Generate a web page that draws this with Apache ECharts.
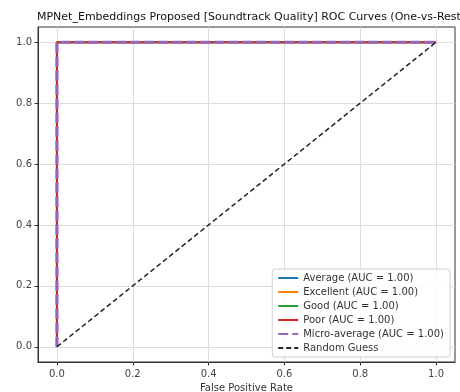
<!DOCTYPE html>
<html><head><meta charset="utf-8">
<script src="https://cdn.jsdelivr.net/npm/echarts@6/dist/echarts.min.js"></script>
<style>html,body{margin:0;padding:0;background:#fff}#c{width:460px;height:392px}</style>
</head><body><div id="c"></div>
<script>
const titleText = "MPNet_Embeddings Proposed [Soundtrack Quality] ROC Curves (One-vs-Rest)";
const xTicks = [0, 0.2, 0.4, 0.6, 0.8, 1.0];
const yTicks = [0, 0.2, 0.4, 0.6, 0.8, 1.0];
const seriesNames = ["Average (AUC = 1.00)", "Excellent (AUC = 1.00)", "Good (AUC = 1.00)", "Poor (AUC = 1.00)", "Micro-average (AUC = 1.00)", "Random Guess"];
const averageFpr = [0, 0, 1];
const averageTpr = [0, 1, 1];
const excellentFpr = [0, 0, 1];
const excellentTpr = [0, 1, 1];
const goodFpr = [0, 0, 1];
const goodTpr = [0, 1, 1];
const poorFpr = [0, 0, 1];
const poorTpr = [0, 1, 1];
const microFpr = [0, 0, 1];
const microTpr = [0, 1, 1];
const randomFpr = [0, 1];
const randomTpr = [0, 1];

const colors = ["#1f77b4", "#ff7f0e", "#2ca02c", "#d62728", "#9467bd", "#222222"];
const zip = (a, b) => a.map((v, i) => [v, b[i]]);
const curves = [
  zip(averageFpr, averageTpr), zip(excellentFpr, excellentTpr), zip(goodFpr, goodTpr),
  zip(poorFpr, poorTpr), zip(microFpr, microTpr), zip(randomFpr, randomTpr)
];
const styles = [
  {width: 2, type: 'solid'}, {width: 2, type: 'solid'}, {width: 2, type: 'solid'},
  {width: 2, type: 'solid'}, {width: 3.2, type: [10, 4]}, {width: 1.5, type: [5, 3]}
];
const font = "DejaVu Sans";
const chart = echarts.init(document.getElementById('c'), null, {renderer: 'canvas'});
chart.setOption({
  animation: false,
  backgroundColor: '#fff',
  textStyle: {fontFamily: font},
  title: {text: titleText, left: 32, top: 7,
    textStyle: {fontFamily: font, fontSize: 11, fontWeight: 'normal', color: '#111'}},
  grid: {left: 38, right: 5, top: 27, bottom: 30, show: true, borderColor: '#333', borderWidth: 1,
    containLabel: false, outerBoundsMode: 'none'},
  xAxis: {type: 'value', min: -0.05, max: 1.05,
    name: 'False Positive Rate', nameLocation: 'middle', nameGap: 12,
    nameTextStyle: {fontFamily: font, fontSize: 10, color: '#333', verticalAlign: 'top'},
    axisLine: {show: true, onZero: false, lineStyle: {color: '#333'}},
    axisTick: {show: true, length: 3.5, lineStyle: {color: '#333'}, customValues: xTicks},
    axisLabel: {fontFamily: font, fontSize: 10, color: '#444', margin: 7, customValues: xTicks,
      formatter: v => v.toFixed(1)},
    splitLine: {show: true, lineStyle: {color: '#dcdcdc', width: 1}}
  },
  yAxis: {type: 'value', min: -0.05, max: 1.05,
    axisLine: {show: true, onZero: false, lineStyle: {color: '#333'}},
    axisTick: {show: true, length: 3.5, lineStyle: {color: '#333'}, customValues: yTicks},
    axisLabel: {fontFamily: font, fontSize: 10, color: '#444', margin: 6, customValues: yTicks,
      formatter: v => v.toFixed(1)},
    splitLine: {show: true, lineStyle: {color: '#dcdcdc', width: 1}}
  },
  legend: {orient: 'vertical', right: 10, bottom: 35,
    backgroundColor: 'rgba(255,255,255,0.85)', borderColor: '#d0d0d0', borderWidth: 1, borderRadius: 3,
    padding: [4, 6, 4, 5], itemWidth: 20, itemHeight: 10, itemGap: 4,
    itemStyle: {opacity: 0},
    textStyle: {fontFamily: font, fontSize: 10, color: '#333'},
    data: seriesNames
  },
  series: curves.map((d, i) => ({
    name: seriesNames[i], type: 'line', data: d, symbol: 'none', showSymbol: false,
    lineStyle: {color: colors[i], width: styles[i].width, type: styles[i].type},
    itemStyle: {color: colors[i]},
    z: 2 + i
  }))
});
</script></body></html>
